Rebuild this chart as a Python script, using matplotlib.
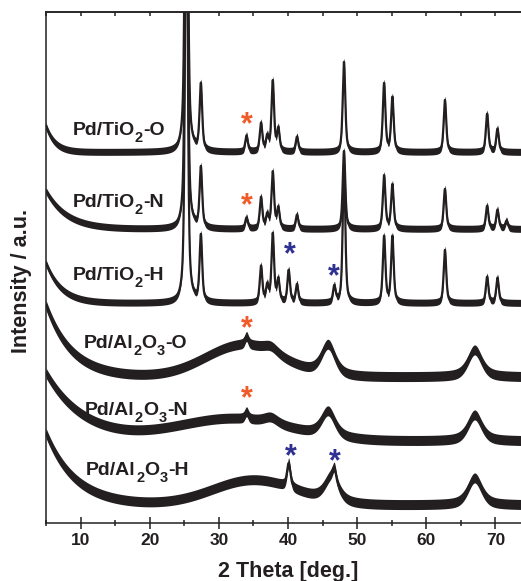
import numpy as np
import matplotlib
matplotlib.use("Agg")
import matplotlib.pyplot as plt

plt.rcParams["font.family"] = ["Liberation Sans", "DejaVu Sans"]
plt.rcParams["font.weight"] = "bold"

ink = "#231f20"
orange = "#f15a29"
blue = "#2e3192"

two_theta = np.arange(5.0, 75.01, 0.02)

# sample names split into (text, is_subscript) pieces
labels = [
    [("Pd/TiO", False), ("2", True), ("-O", False)],
    [("Pd/TiO", False), ("2", True), ("-N", False)],
    [("Pd/TiO", False), ("2", True), ("-H", False)],
    [("Pd/Al", False), ("2", True), ("O", False), ("3", True), ("-O", False)],
    [("Pd/Al", False), ("2", True), ("O", False), ("3", True), ("-N", False)],
    [("Pd/Al", False), ("2", True), ("O", False), ("3", True), ("-H", False)],
]

# background: flat level, low-angle rise (amplitude, decay), amorphous hump (centre, height, sigma)
base_level = [371, 294, 220, 146, 82, 18]
low_amp = [26, 38, 40, 72, 68, 72]
low_decay = [1.3, 3.0, 2.2, 3.7, 5.5, 4.2]
hump_center = [30, 30, 30, 33.5, 32, 35]
hump_height = [0, 0, 0, 32, 22, 25]
hump_sigma = [5, 5, 5, 5.5, 8, 6]

# Bragg reflections: centre (deg), height (a.u.)
tio2_o_pos = [25.3, 27.4, 34.0, 36.1, 37.0, 37.8, 38.6, 41.3, 48.1, 53.9, 55.1, 62.7, 68.8, 70.3]
tio2_o_height = [520, 66, 16, 28, 14, 70, 22, 15, 90, 68, 54, 52, 38, 23]
tio2_n_pos = [25.3, 27.4, 34.0, 36.1, 37.0, 37.8, 38.6, 41.3, 48.1, 53.9, 55.1, 62.7, 68.8, 70.3, 71.6]
tio2_n_height = [480, 60, 11, 31, 13, 56, 20, 14, 78, 53, 44, 40, 23, 19, 8]
tio2_h_pos = [25.3, 27.4, 36.1, 37.0, 37.8, 38.6, 40.1, 41.3, 46.7, 48.1, 53.9, 55.1, 62.7, 68.8, 70.3]
tio2_h_height = [480, 66, 36, 16, 68, 22, 32, 18, 16, 138, 66, 66, 53, 26, 25]
al_o_pos = [34.0, 37.5, 45.8, 67.0]
al_o_height = [8, 6, 30, 27]
al_n_pos = [34.0, 37.5, 45.8, 67.0]
al_n_height = [7, 6, 25, 26]
al_h_pos = [40.1, 46.3, 46.7, 67.0]
al_h_height = [24, 24, 12, 27]

peak_pos = [tio2_o_pos, tio2_n_pos, tio2_h_pos, al_o_pos, al_n_pos, al_h_pos]
peak_height = [tio2_o_height, tio2_n_height, tio2_h_height, al_o_height, al_n_height, al_h_height]
peak_width = [0.22, 0.22, 0.22, 1.2, 1.2, 1.2]
sharp_width = 0.3  # Pd/PdO reflections on the alumina samples

# counting scatter around each pattern (half band, a.u.)
noise_band = [3.5, 3.5, 3.5, 5, 5, 5]

label_x = [8.8, 8.8, 8.8, 10.4, 10.6, 10.8]
label_y = [384, 312, 239, 171, 104, 44]

# phase markers: (2theta, intensity, colour)
stars = [(34.1, 404, orange), (34.1, 323, orange), (34.1, 200, orange), (34.1, 130, orange),
         (40.3, 274, blue), (46.65, 252, blue), (40.4, 72, blue), (46.8, 67, blue)]


def pseudo_voigt(x, c, h, w):
    t = (x - c) / w
    return h * (0.4 * np.exp(-np.log(2) * t ** 2) + 0.6 / (1 + t ** 2))


def chem_label(ax, x, y, parts, size=14, sub_size=10.5):
    main = ax.text(x, y, parts[0][0], fontsize=size, fontweight="bold", color=ink,
                   ha="left", va="bottom")
    prev = main
    for s, sub in parts[1:]:
        if sub:
            prev = ax.annotate(s, xy=(1, 0), xycoords=(prev, main), xytext=(0.2, -4.6),
                               textcoords="offset points", ha="left", va="bottom",
                               fontsize=sub_size, fontweight="bold", color=ink)
        else:
            prev = ax.annotate(s, xy=(1, 0), xycoords=(prev, main), xytext=(0.2, 0),
                               textcoords="offset points", ha="left", va="bottom",
                               fontsize=size, fontweight="bold", color=ink)


fig = plt.figure(figsize=(5.21, 5.81), dpi=100)
ax = fig.add_axes([46 / 521, 58 / 581, 484 / 521, 511 / 581])

for i in range(6):
    y = (base_level[i]
         + low_amp[i] * np.exp(-(two_theta - 5) / low_decay[i])
         + hump_height[i] * np.exp(-(two_theta - hump_center[i]) ** 2 / (2 * hump_sigma[i] ** 2)))
    for c, h in zip(peak_pos[i], peak_height[i]):
        w = peak_width[i]
        if i >= 3 and c in (34.0, 40.1, 46.7):
            w = sharp_width
        y = y + pseudo_voigt(two_theta, c, h, w)
    ax.fill_between(two_theta, y - noise_band[i], y + noise_band[i], color=ink, lw=0)
    ax.plot(two_theta, y, color=ink, lw=1.6)
    chem_label(ax, label_x[i], label_y[i], labels[i])

for x, y, col in stars:
    ax.annotate("*", xy=(x, y), xytext=(0, -10), textcoords="offset points",
                ha="center", va="baseline", fontsize=22, fontweight="bold", color=col)

ax.set_xlim(5, 75)
ax.set_ylim(0, 511)
ax.set_yticks([])
ax.set_xticks(range(10, 71, 10))
ax.set_xticks(range(5, 76, 10), minor=True)
ax.tick_params(axis="x", which="major", direction="inout", length=8.5, width=1.1,
               labelsize=12.5, pad=3, colors=ink)
ax.tick_params(axis="x", which="minor", direction="inout", length=4, width=1.1, colors=ink)
for lbl in ax.get_xticklabels():
    lbl.set_fontweight("bold")

top = ax.secondary_xaxis("top")
top.set_xticks(range(5, 76, 5))
top.tick_params(direction="in", length=3, width=1.1, labeltop=False, colors=ink)

for side in ax.spines.values():
    side.set_linewidth(1.1)
    side.set_color(ink)
top.spines["top"].set_linewidth(1.1)
top.spines["top"].set_color(ink)

ax.set_xlabel("2 Theta [deg.]", fontsize=15.5, fontweight="bold", color=ink)
ax.xaxis.set_label_coords(242 / 484, -38 / 511)
ax.set_ylabel("Intensity / a.u.", fontsize=15.5, fontweight="bold", color=ink)
ax.yaxis.set_label_coords(-14 / 484, 242 / 511)

fig.savefig("out.png", dpi=100)
